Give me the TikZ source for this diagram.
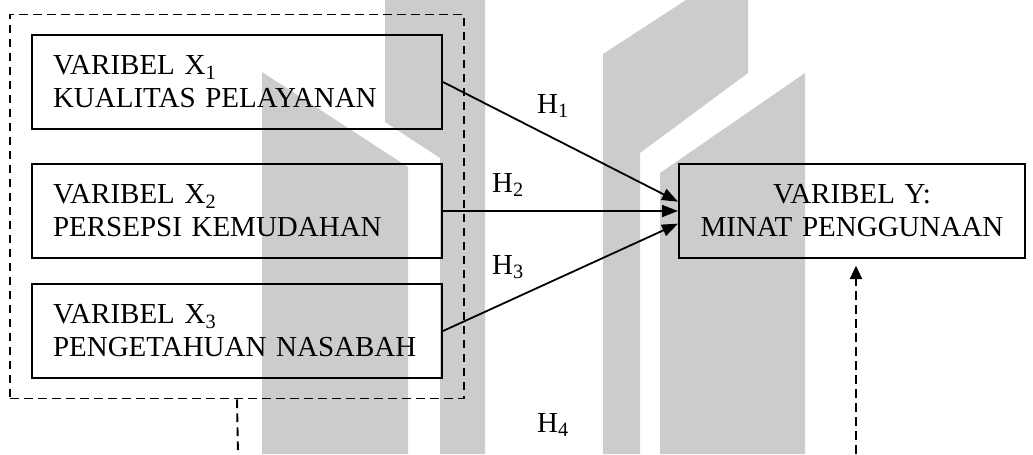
\documentclass[tikz,border=0pt]{standalone}
\usepackage{fontspec}
\setmainfont{Liberation Serif}
\usetikzlibrary{positioning,fit,arrows.meta}

\tikzset{
  varbox/.style={draw, line width=1.5pt, minimum height=70.5pt, font=\fontsize{21.75}{24.75}\selectfont},
  varx/.style={varbox, inner xsep=15.75pt, text width=276pt, align=left},
  vary/.style={varbox, inner xsep=5pt, text width=249.5pt, align=center},
  hyp/.style={font=\fontsize{21.75}{24.75}\selectfont, anchor=base, inner sep=0pt},
  link/.style={line width=1.35pt, -{Triangle[length=12pt,width=9pt]}},
  dashlink/.style={line width=1.4pt, dash pattern=on 6.5pt off 4pt},
  wmark/.style={fill=black!20, draw=none}
}

\begin{document}
\begin{tikzpicture}[x=0.75pt, y=-0.75pt]
  \useasboundingbox (0,0) rectangle (1033,454);
  % logo in the background
  \fill[wmark] (262,72) -- (408,167) -- (408,454) -- (262,454) -- cycle;
  \fill[wmark] (385,0) -- (485,0) -- (485,454) -- (440,454) -- (440,158) -- (385,122) -- cycle;
  \fill[wmark] (603,54) -- (686,0) -- (748,0) -- (748,73) -- (640,153) -- (640,454) -- (603,454) -- cycle;
  \fill[wmark] (660,173) -- (805,73) -- (805,454) -- (660,454) -- cycle;

  \node[varx] (x1) at (237,82) {VARIBEL X\textsubscript{1}\\KUALITAS PELAYANAN};
  \node[varx, below=24.75pt of x1] (x2) {VARIBEL X\textsubscript{2}\\PERSEPSI KEMUDAHAN};
  \node[varx, below=18pt of x2] (x3) {VARIBEL X\textsubscript{3}\\PENGETAHUAN NASABAH};
  \node[vary, right=176.25pt of x2] (y) {VARIBEL Y:\\MINAT PENGGUNAAN};
  \node[draw, dashlink, fit=(x1)(x3), inner xsep=15.75pt, inner ysep=14.6pt] (xall) {};

  \node[hyp] (h1) at (553,113) {H\textsubscript{1}};
  \node[hyp] (h2) at (508,192) {H\textsubscript{2}};
  \node[hyp] (h3) at (508,274) {H\textsubscript{3}};
  \node[hyp] (h4) at (553,432) {H\textsubscript{4}};

  \coordinate (xout) at (238,454);
  \coordinate (yin) at (856,454);

  \draw[link] (x1.east) -- ([yshift=7pt]y.west);
  \draw[link] (x2.east) -- (y.west);
  \draw[link] (x3.east) -- ([yshift=-9.5pt]y.west);
  \draw[dashlink] (xall.south) -- (xout);
  \draw[dashlink, -{Triangle[length=10pt,width=9pt]}, shorten >=5pt] (yin) -- (yin |- y.south);
\end{tikzpicture}
\end{document}
